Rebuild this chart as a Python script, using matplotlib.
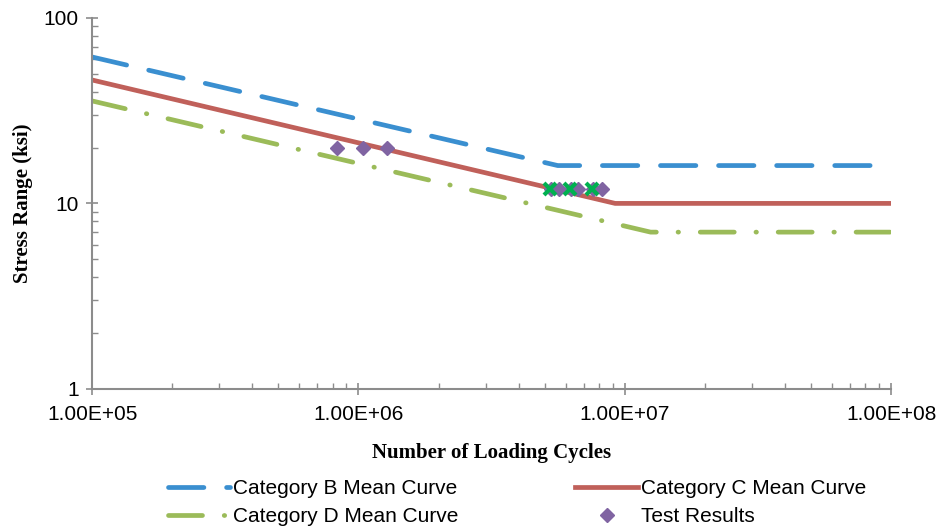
import numpy as np
import matplotlib.pyplot as plt
from matplotlib.lines import Line2D
from matplotlib.ticker import FixedLocator, LogLocator, NullFormatter

# S-N curves (cycles, ksi)
cat_b_n = [1.0e5, 5.6e6, 1.0e8]
cat_b_s = [61.6, 16.0, 16.0]
cat_c_n = [1.0e5, 9.2e6, 1.0e8]
cat_c_s = [46.3, 10.0, 10.0]
cat_d_n = [1.0e5, 1.25e7, 1.0e8]
cat_d_s = [35.7, 7.0, 7.0]

# test results
test_n = [8.3e5, 1.04e6, 1.28e6, 5.3e6, 5.64e6, 6.3e6, 6.7e6, 7.6e6, 8.24e6]
test_s = [20, 20, 20, 12, 12, 12, 12, 12, 12]
runout_n = [5.26e6, 6.25e6, 7.55e6]
runout_s = [12, 12, 12]

xticks = [1e5, 1e6, 1e7, 1e8]
xticklabels = ['1.00E+05', '1.00E+06', '1.00E+07', '1.00E+08']
yticks = [1, 10, 100]
yticklabels = ['1', '10', '100']

blue = '#3A8FD0'
red = '#C0605A'
green = '#9BBB59'
purple = '#8064A2'
xgreen = '#00B050'
axcol = '#8C8C8C'

plt.rcParams['font.family'] = ['Liberation Sans', 'DejaVu Sans']

fig = plt.figure(figsize=(9.4, 5.29), dpi=100)
ax = fig.add_axes([0.098, 0.265, 0.85, 0.701])

lw = 3.4
b_dash = (7.5, 4.8)
d_dash = (7.2, 4.6, 0.1, 4.6)
ax.plot(cat_b_n, cat_b_s, color=blue, lw=lw, dashes=b_dash, dash_capstyle='round')
ax.plot(cat_c_n, cat_c_s, color=red, lw=lw, solid_capstyle='butt')
ax.plot(cat_d_n, cat_d_s, color=green, lw=lw, dashes=d_dash, dash_capstyle='round')
ax.plot(test_n, test_s, ls='none', marker='D', ms=7.5, color=purple, mec=purple)
ax.plot(runout_n, runout_s, ls='none', marker='x', ms=8, mew=3, color=xgreen)

ax.set_xscale('log')
ax.set_yscale('log')
ax.set_xlim(1e5, 1e8)
ax.set_ylim(1, 100)

ax.xaxis.set_major_locator(FixedLocator(xticks))
ax.set_xticklabels(xticklabels)
ax.yaxis.set_major_locator(FixedLocator(yticks))
ax.set_yticklabels(yticklabels)
ax.xaxis.set_minor_locator(LogLocator(base=10, subs=np.arange(2, 10)))
ax.yaxis.set_minor_locator(LogLocator(base=10, subs=np.arange(2, 10)))
ax.xaxis.set_minor_formatter(NullFormatter())
ax.yaxis.set_minor_formatter(NullFormatter())

for s in ['top', 'right']:
    ax.spines[s].set_visible(False)
for s in ['left', 'bottom']:
    ax.spines[s].set_color(axcol)
    ax.spines[s].set_linewidth(1.5)

ax.tick_params(which='major', direction='inout', length=9, width=1.2, color=axcol,
               labelsize=15, labelcolor='#000000')
ax.tick_params(axis='x', which='major', pad=7)
ax.tick_params(axis='y', which='major', pad=5)
ax.tick_params(which='minor', direction='in', length=4, width=1, color=axcol)

ax.set_xlabel('Number of Loading Cycles', family='Liberation Serif', fontweight='bold',
              fontsize=15, labelpad=14)
ax.set_ylabel('Stress Range (ksi)', family='Liberation Serif', fontweight='bold',
              fontsize=15, labelpad=8)

handles = [
    Line2D([], [], color=blue, lw=lw, dashes=b_dash, dash_capstyle='round'),
    Line2D([], [], color=green, lw=lw, dashes=d_dash, dash_capstyle='round'),
    Line2D([], [], color=red, lw=lw),
    Line2D([], [], ls='none', marker='D', ms=7.5, color=purple),
]
labels = ['Category B Mean Curve', 'Category D Mean Curve',
          'Category C Mean Curve', 'Test Results']
fig.legend(handles, labels, loc='lower center', bbox_to_anchor=(0.55, -0.03), ncol=2,
           frameon=False, fontsize=15, handlelength=3.0, handletextpad=0.15,
           columnspacing=5.6, labelspacing=0.42)

fig.savefig('out.png', dpi=100)
